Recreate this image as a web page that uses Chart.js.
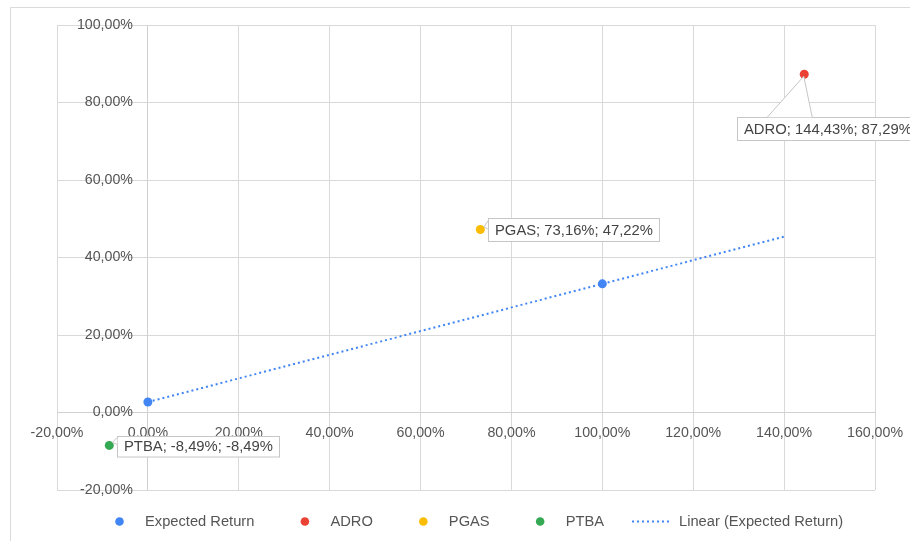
<!DOCTYPE html>
<html>
<head>
<meta charset="utf-8">
<script src="https://cdn.jsdelivr.net/npm/chart.js@4/dist/chart.umd.min.js"></script>
<style>
  html, body { margin: 0; padding: 0; background: #ffffff; }
  #wrap { width: 910px; height: 541px; position: relative; }
</style>
</head>
<body>
<div id="wrap"><canvas id="c" width="910" height="541"></canvas></div>
<script>
// ---- data ----
const xTickValues = [-20, 0, 20, 40, 60, 80, 100, 120, 140, 160];
const yTickValues = [-20, 0, 20, 40, 60, 80, 100];
const expectedX = [0, 100];
const expectedY = [2.7, 33.2];
const adroX = [144.43];
const adroY = [87.29];
const pgasX = [73.16];
const pgasY = [47.22];
const ptbaX = [-8.49];
const ptbaY = [-8.49];
const trendX = [0, 140];
const trendY = [2.7, 45.4];
const seriesNames = ['Expected Return', 'ADRO', 'PGAS', 'PTBA', 'Linear (Expected Return)'];

const fmt = v => v.toFixed(2).replace('.', ',') + '%';
const pts = (xs, ys) => xs.map((x, i) => ({ x: x, y: ys[i] }));

const BLUE = '#4285F4', RED = '#EA4335', YELLOW = '#FBBC04', GREEN = '#34A853';
const FONT = '"Liberation Sans", Arial, sans-serif';

// label callout styling (offsets relative to the point pixel)
const callouts = {
  1: { dx: -67, dy: 43, h: 23, tip: [-0.5, 2], a: [-37, 43], b: [8, 43] },
  2: { dx: 7.5, dy: -11.5, h: 23, tip: [3.5, -2.5], a: [7.5, -8.5], b: [7.5, -0.5] },
  3: { dx: 8, dy: -9, h: 20.5, tip: [3, -3], a: [8, -8], b: [8, -1] }
};

const framePlugin = {
  id: 'frame',
  beforeDraw(chart) {
    const ctx = chart.ctx;
    ctx.save();
    ctx.fillStyle = '#ffffff';
    ctx.fillRect(0, 0, chart.width, chart.height);
    ctx.strokeStyle = '#dadada';
    ctx.lineWidth = 1;
    ctx.beginPath();
    ctx.moveTo(10.5, chart.height + 2);
    ctx.lineTo(10.5, 7.5);
    ctx.lineTo(chart.width + 2, 7.5);
    ctx.stroke();
    ctx.restore();
    // y tick labels sit just left of the crossing (x = 0) axis line
    const ys = chart.scales.y;
    const items = ys.getLabelItems(chart.chartArea);
    if (!items._shifted) {
      items.forEach(it => { it.options.translation[0] -= 15; });
      items._shifted = true;
    }
  }
};

const labelPlugin = {
  id: 'callouts',
  afterDatasetsDraw(chart) {
    const ctx = chart.ctx;
    ctx.save();
    ctx.font = '14.8px ' + FONT;
    Object.keys(callouts).forEach(k => {
      const di = +k;
      const c = callouts[k];
      const meta = chart.getDatasetMeta(di);
      const el = meta.data[0];
      const raw = chart.data.datasets[di].data[0];
      const text = chart.data.datasets[di].label + '; ' + fmt(raw.x) + '; ' + fmt(raw.y);
      const tw = ctx.measureText(text).width;
      const px = el.x, py = el.y;
      const left = Math.round(px + c.dx) + 0.5;
      const top = Math.round(py + c.dy) + 0.5;
      const w = Math.round(tw + 13);
      ctx.fillStyle = '#ffffff';
      ctx.strokeStyle = '#c6c6c6';
      ctx.lineWidth = 1;
      ctx.fillRect(left, top, w, c.h);
      ctx.strokeRect(left, top, w, c.h);
      const T = [px + c.tip[0], py + c.tip[1]];
      const A = [px + c.a[0], py + c.a[1]];
      const B = [px + c.b[0], py + c.b[1]];
      ctx.beginPath();
      ctx.moveTo(A[0], A[1]); ctx.lineTo(T[0], T[1]); ctx.lineTo(B[0], B[1]);
      ctx.closePath();
      ctx.fill();
      ctx.beginPath();
      ctx.moveTo(A[0], A[1]); ctx.lineTo(T[0], T[1]); ctx.lineTo(B[0], B[1]);
      ctx.stroke();
      ctx.fillStyle = '#444444';
      ctx.textBaseline = 'middle';
      ctx.textAlign = 'left';
      ctx.fillText(text, left + 6.5, top + c.h / 2 + 0.5);
    });
    ctx.restore();
  }
};

const legendPlugin = {
  id: 'customLegend',
  afterDraw(chart) {
    const ctx = chart.ctx;
    ctx.save();
    ctx.font = '14.7px ' + FONT;
    ctx.textBaseline = 'middle';
    ctx.textAlign = 'left';
    const y = 521.5;
    let x = 115;
    chart.data.datasets.forEach((ds, i) => {
      if (ds.showLine) {
        x -= 18;
        ctx.strokeStyle = ds.borderColor;
        ctx.lineWidth = 2;
        ctx.setLineDash(ds.borderDash);
        ctx.beginPath();
        ctx.moveTo(x, y); ctx.lineTo(x + 39, y);
        ctx.stroke();
        ctx.setLineDash([]);
        ctx.fillStyle = '#555555';
        ctx.fillText(ds.label, x + 47, y);
        x = x + 47 + ctx.measureText(ds.label).width + 46;
      } else {
        ctx.fillStyle = ds.backgroundColor;
        ctx.beginPath();
        ctx.arc(x + 4.5, y, 4.3, 0, Math.PI * 2);
        ctx.fill();
        ctx.fillStyle = '#555555';
        ctx.fillText(ds.label, x + 30, y);
        x = x + 30 + ctx.measureText(ds.label).width + 46;
      }
    });
    ctx.restore();
  }
};

const pointDs = (label, data, color) => ({
  label: label, data: data, backgroundColor: color, borderColor: color,
  pointRadius: 4.5, pointHoverRadius: 4.5, borderWidth: 0, showLine: false, order: 1
});

const noPad = s => { s.paddingLeft = 0; s.paddingRight = 0; s.paddingTop = 0; s.paddingBottom = 0; };

new Chart(document.getElementById('c'), {
  type: 'scatter',
  data: {
    datasets: [
      pointDs(seriesNames[0], pts(expectedX, expectedY), BLUE),
      pointDs(seriesNames[1], pts(adroX, adroY), RED),
      pointDs(seriesNames[2], pts(pgasX, pgasY), YELLOW),
      pointDs(seriesNames[3], pts(ptbaX, ptbaY), GREEN),
      {
        label: seriesNames[4], data: pts(trendX, trendY), showLine: true,
        borderColor: BLUE, backgroundColor: BLUE, borderWidth: 2, borderDash: [2, 3],
        pointRadius: 0, pointHoverRadius: 0, fill: false, order: 5
      }
    ]
  },
  options: {
    responsive: false,
    animation: false,
    events: [],
    layout: { padding: { left: 57, right: 35, top: 25, bottom: 51 } },
    plugins: { legend: { display: false }, tooltip: { enabled: false }, title: { display: false } },
    scales: {
      x: {
        type: 'linear', min: -20, max: 160, position: { y: 0 },
        afterBuildTicks: s => { s.ticks = xTickValues.map(v => ({ value: v })); },
        afterFit: noPad,
        grid: { color: '#d9d9d9', drawTicks: false, lineWidth: 1 },
        border: { color: '#d0d0d0', width: 1 },
        ticks: { callback: v => fmt(v), color: '#555555', font: { family: FONT, size: 14.2 }, padding: 12, maxRotation: 0, autoSkip: false }
      },
      y: {
        type: 'linear', min: -20, max: 100, position: { x: 0 },
        afterBuildTicks: s => { s.ticks = yTickValues.map(v => ({ value: v })); },
        afterFit: noPad,
        grid: { color: '#d9d9d9', drawTicks: false, lineWidth: 1 },
        border: { color: '#d0d0d0', width: 1 },
        ticks: { callback: v => fmt(v), color: '#555555', font: { family: FONT, size: 14.2 }, padding: 15, autoSkip: false }
      }
    }
  },
  plugins: [framePlugin, labelPlugin, legendPlugin]
});
</script>
</body>
</html>
